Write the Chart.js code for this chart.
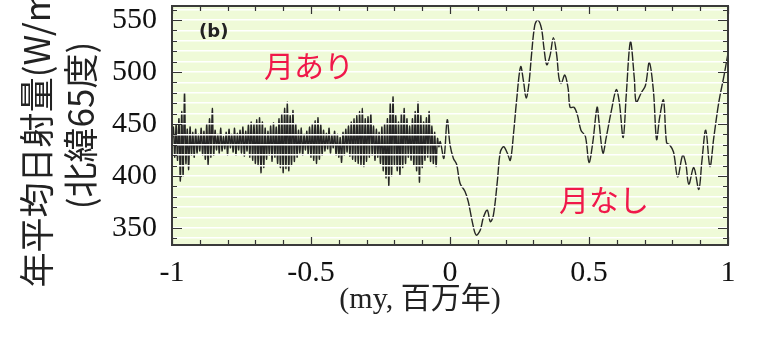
<!DOCTYPE html>
<html lang="ja">
<head>
    <meta charset="UTF-8">
    <title>年平均日射量</title>
    <script src="https://cdn.jsdelivr.net/npm/chart.js"></script>
    <style>
        body {
            margin: 0;
            background-color: #fff;
        }
        #wrap {
            width: 763px;
            height: 341px;
        }
    </style>
</head>
<body>
    <div id="wrap"><canvas id="insolChart" width="763" height="341"></canvas></div>

    <script>
        // left half: dense record, one value every LEFT_STEP my from LEFT_START
        const LEFT_START = -1;
        const LEFT_STEP = 0.005;
        const leftY = [
            432, 447, 418, 450, 415, 455, 395, 462, 400, 480,
            412, 445, 406, 447, 420, 442, 418, 445, 422, 440,
            424, 446, 420, 443, 416, 450, 411, 455, 418, 465,
            420, 444, 425, 440, 422, 446, 424, 438, 426, 442,
            420, 445, 427, 440, 423, 446, 420, 441, 425, 444,
            422, 447, 419, 443, 424, 449, 418, 452, 415, 450,
            412, 454, 410, 456, 403, 452, 408, 446, 416, 443,
            420, 448, 414, 451, 418, 447, 412, 455, 408, 460,
            403, 465, 407, 471, 405, 458, 410, 463, 414, 450,
            418, 444, 422, 446, 420, 440, 425, 443, 421, 447,
            418, 450, 415, 453, 412, 456, 416, 449, 420, 444,
            424, 441, 426, 446, 422, 439, 427, 443, 420, 440,
            418, 437, 413, 442, 420, 445, 423, 448, 419, 452,
            416, 455, 414, 458, 412, 462, 410, 465, 409, 455,
            414, 457, 418, 460, 420, 448, 415, 445, 418, 442,
            412, 447, 405, 450, 398, 455, 391, 470, 400, 476,
            410, 458, 405, 452, 401, 460, 408, 465, 412, 455,
            418, 448, 415, 455, 410, 462, 405, 471, 394, 458,
            408, 452, 415, 456, 418, 462, 414, 448, 412, 442,
            409, 436, 428
        ];

        // right half: smoother record (my, W/m2)
        const rightX = [
            -0.035, -0.022, -0.01, 0.0, 0.012, 0.024, 0.036, 0.054, 0.066, 0.08,
            0.094, 0.109, 0.12, 0.134, 0.145, 0.156, 0.17, 0.181, 0.193, 0.206,
            0.217, 0.229, 0.239, 0.254, 0.265, 0.274, 0.284, 0.293, 0.305, 0.316,
            0.329, 0.338, 0.348, 0.36, 0.372, 0.384, 0.392, 0.4, 0.413, 0.425,
            0.432, 0.446, 0.458, 0.471, 0.487, 0.5, 0.514, 0.529, 0.536, 0.55,
            0.562, 0.58, 0.598, 0.609, 0.623, 0.634, 0.649, 0.663, 0.67, 0.688,
            0.703, 0.717, 0.732, 0.743, 0.754, 0.768, 0.779, 0.79, 0.804, 0.819,
            0.837, 0.848, 0.859, 0.877, 0.895, 0.906, 0.92, 0.935, 0.949, 0.967,
            0.986, 1.0
        ];
        const rightY = [
            433, 417, 454, 430, 417, 411, 393, 385, 375, 356,
            343, 348, 360, 367, 356, 362, 394, 423, 428, 422,
            415, 442, 471, 505, 490, 475, 489, 516, 545, 550,
            542, 523, 507, 516, 533, 516, 494, 489, 497, 484,
            466, 466, 459, 444, 438, 413, 433, 466, 452, 422,
            437, 462, 483, 471, 437, 478, 529, 494, 471, 480,
            487, 509, 481, 435, 456, 473, 432, 430, 423, 399,
            420, 412, 392, 408, 387, 414, 444, 409, 437, 471,
            497, 518
        ];

        const xTickValues = [-1, -0.9, -0.8, -0.7, -0.6, -0.5, -0.4, -0.3, -0.2, -0.1, 0,
                             0.1, 0.2, 0.3, 0.4, 0.5, 0.6, 0.7, 0.8, 0.9, 1];
        const xTickLabels = ['-1', '-0.5', '0', '0.5', '1'];
        const yTickValues = [340, 350, 360, 370, 380, 390, 400, 410, 420, 430, 440, 450,
                             460, 470, 480, 490, 500, 510, 520, 530, 540, 550, 560];
        const yTickLabels = ['350', '400', '450', '500', '550'];

        const noteTexts = ['(b)', '月あり', '月なし'];
        const noteX = [-0.85, -0.507, 0.554];
        const noteY = [538, 506, 377];

        const points = leftY.map((y, i) => ({ x: LEFT_START + i * LEFT_STEP, y: y }))
            .concat(rightX.map((x, i) => ({ x: x, y: rightY[i] })));

        // plot background, frame, inward ticks and the two labels
        const decorPlugin = {
            id: 'decor',
            beforeDraw(chart) {
                const a = chart.chartArea, c = chart.ctx;
                c.save();
                c.fillStyle = '#effad8';
                c.fillRect(a.left, a.top, a.right - a.left, a.bottom - a.top);
                c.restore();
            },
            afterDraw(chart) {
                const a = chart.chartArea, c = chart.ctx;
                const xs = chart.scales.x, ys = chart.scales.y;
                c.save();
                c.strokeStyle = '#333';
                c.lineWidth = 1.2;
                c.beginPath();
                xs.ticks.forEach(t => {
                    const p = Math.round(xs.getPixelForValue(t.value)) + 0.5;
                    const len = t.label ? 8 : 5;
                    c.moveTo(p, a.bottom); c.lineTo(p, a.bottom - len);
                    c.moveTo(p, a.top); c.lineTo(p, a.top + len);
                });
                ys.ticks.forEach(t => {
                    const p = Math.round(ys.getPixelForValue(t.value)) + 0.5;
                    const len = t.label ? 10 : 5;
                    c.moveTo(a.left, p); c.lineTo(a.left + len, p);
                    c.moveTo(a.right, p); c.lineTo(a.right - len, p);
                });
                c.stroke();

                c.strokeStyle = '#3a3a3a';
                c.lineWidth = 2;
                c.strokeRect(a.left, a.top, a.right - a.left, a.bottom - a.top);

                c.textAlign = 'center';
                c.textBaseline = 'middle';
                noteTexts.forEach((txt, i) => {
                    if (i === 0) {
                        c.fillStyle = '#222';
                        c.font = 'bold 18px "DejaVu Sans"';
                    } else {
                        c.fillStyle = '#f0184a';
                        c.font = '30px "Noto Sans CJK JP"';
                    }
                    c.fillText(txt, xs.getPixelForValue(noteX[i]), ys.getPixelForValue(noteY[i]));
                });
                c.restore();
            }
        };

        const ctx = document.getElementById('insolChart').getContext('2d');
        const insolChart = new Chart(ctx, {
            type: 'line',
            data: {
                datasets: [{
                    data: points,
                    borderColor: '#262626',
                    borderWidth: 1.4,
                    pointRadius: 0,
                    tension: 0.35,
                    fill: false
                }]
            },
            options: {
                responsive: false,
                animation: false,
                events: [],
                layout: { padding: { left: 0, right: 35, top: 6, bottom: 0 } },
                plugins: {
                    legend: { display: false },
                    tooltip: { enabled: false }
                },
                scales: {
                    x: {
                        type: 'linear',
                        min: -1,
                        max: 1,
                        afterBuildTicks: (scale) => {
                            scale.ticks = xTickValues.map(v => ({ value: v }));
                        },
                        afterFit: (scale) => {
                            scale.height = 96;
                            scale.paddingLeft = 0;
                            scale.paddingRight = 0;
                        },
                        grid: { display: false },
                        border: { display: false },
                        ticks: {
                            autoSkip: false,
                            maxRotation: 0,
                            padding: 2,
                            color: '#111',
                            font: { family: '"Liberation Serif"', size: 30 },
                            callback: (v) => {
                                const s = String(Math.round(v * 10) / 10);
                                return xTickLabels.includes(s) ? s : '';
                            }
                        },
                        title: {
                            display: true,
                            text: '(my, 百万年)\u3000\u3000',
                            color: '#222',
                            font: { family: '"Liberation Serif", "Noto Sans CJK JP"', size: 30, lineHeight: 1.2 },
                            padding: { top: 0, bottom: 23 }
                        }
                    },
                    y: {
                        min: 333.5,
                        max: 563.5,
                        afterBuildTicks: (scale) => {
                            scale.ticks = yTickValues.map(v => ({ value: v }));
                        },
                        afterFit: (scale) => {
                            scale.width = 172;
                            scale.paddingTop = 0;
                            scale.paddingBottom = 0;
                        },
                        grid: {
                            color: '#ffffff',
                            lineWidth: 1.5,
                            drawTicks: false,
                            z: 1
                        },
                        border: { display: false },
                        ticks: {
                            autoSkip: false,
                            padding: 15,
                            color: '#111',
                            font: { family: '"Liberation Serif"', size: 30 },
                            callback: (v) => yTickLabels.includes(String(v)) ? String(v) : ''
                        },
                        title: {
                            display: true,
                            text: ['年平均日射量(W/m²)', '(北緯65度)'],
                            color: '#222',
                            font: { family: '"Noto Sans CJK JP"', size: 35, lineHeight: 1.26 },
                            padding: { top: 15, bottom: 0 }
                        }
                    }
                }
            },
            plugins: [decorPlugin]
        });
    </script>
</body>
</html>
